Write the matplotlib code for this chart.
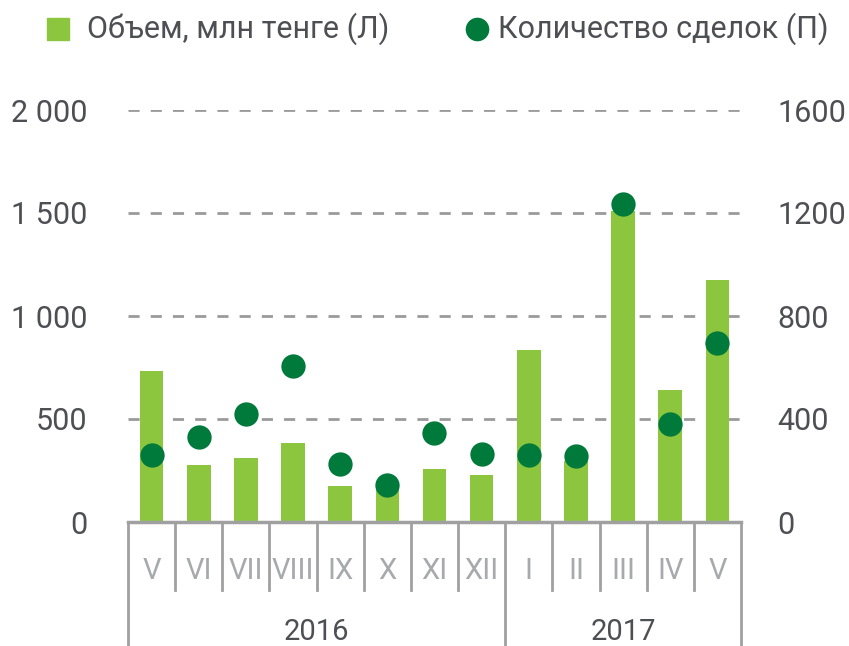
import matplotlib
matplotlib.use("Agg")
import matplotlib.pyplot as plt
from matplotlib import patches as mpatches
from matplotlib.lines import Line2D
import matplotlib.transforms as mtransforms

# data
months = ["V", "VI", "VII", "VIII", "IX", "X", "XI", "XII",
          "I", "II", "III", "IV", "V"]
years = ["2016", "2017"]
months_per_year = [8, 5]
volume = [735, 275, 310, 385, 175, 190, 255, 230, 835, 295, 1510, 640, 1175]   # млн тенге, left axis
deals = [260, 330, 420, 605, 225, 145, 345, 265, 260, 255, 1235, 380, 695]      # count, right axis

left_ticks = [0, 500, 1000, 1500, 2000]
left_labels = ["0", "500", "1 000", "1 500", "2 000"]
right_ticks = [0, 400, 800, 1200, 1600]
legend_labels = ["Объем, млн тенге (Л)", "Количество сделок (П)"]

BAR_GREEN = "#8cc63f"
DOT_GREEN = "#007a3a"
TEXT_DARK = "#4d4f53"
TEXT_GRAY = "#a7a9ac"
LINE_GRAY = "#a0a0a0"

FONT = ["Roboto", "DejaVu Sans"]

W, H = 849, 646
fig = plt.figure(figsize=(W / 100, H / 100), dpi=100)
ax = fig.add_axes([128 / W, 1 - 522 / H, (741 - 128) / W, 412 / H])
ax2 = ax.twinx()

x = list(range(len(months)))
ax.bar(x, volume, width=0.5, color=BAR_GREEN, zorder=2)
ax2.plot(x, deals, "o", color=DOT_GREEN, markersize=17.5, markeredgewidth=0, zorder=3)

ax.set_xlim(-0.5, len(months) - 0.5)
ax.set_ylim(0, 2000)
ax2.set_ylim(0, 1600)

# dashed grid
for v in left_ticks[1:]:
    ax.axhline(v, color="#9a9a9a", lw=2, ls=(0, (4, 4)), zorder=1)

for a in (ax, ax2):
    for s in a.spines.values():
        s.set_visible(False)
ax.spines["bottom"].set_visible(True)
ax.spines["bottom"].set_color(LINE_GRAY)
ax.spines["bottom"].set_linewidth(2.5)

ax.set_yticks(left_ticks)
ax.set_yticklabels(left_labels, fontfamily=FONT, fontsize=22, color=TEXT_DARK)
ax.tick_params(axis="y", length=0, pad=29)
ax2.set_yticks(right_ticks)
ax2.set_yticklabels([str(t) for t in right_ticks], fontfamily=FONT, fontsize=22, color=TEXT_DARK)
ax2.tick_params(axis="y", length=0, pad=26)

ax.set_xticks(x)
ax.set_xticklabels(months, fontfamily=FONT, fontsize=21, color=TEXT_GRAY)
ax.tick_params(axis="x", length=0, pad=25)

# category separators below the axis
trans = mtransforms.blended_transform_factory(ax.transData, ax.transAxes)
year_edges = [-0.5]
for n in months_per_year:
    year_edges.append(year_edges[-1] + n)
for i in range(len(months) + 1):
    b = i - 0.5
    bottom = -0.30 if b in year_edges else -0.165
    ax.plot([b, b], [0, bottom], color=LINE_GRAY, lw=2, transform=trans, clip_on=False)

for i, yr in enumerate(years):
    cx = (year_edges[i] + year_edges[i + 1]) / 2
    ax.text(cx, -0.268, yr, transform=trans, ha="center", va="center",
            fontfamily=FONT, fontsize=21, color=TEXT_DARK)

# legend, placed by hand
fig.patches.append(mpatches.Rectangle((47 / W, 1 - 40 / H), 22 / W, 22 / H,
                                      transform=fig.transFigure, color=BAR_GREEN))
fig.lines.append(Line2D([477 / W], [1 - 29 / H], marker="o", color=DOT_GREEN,
                        markersize=17, markeredgewidth=0, transform=fig.transFigure))
fig.text(87 / W, 1 - 29 / H, legend_labels[0], ha="left", va="center",
         fontfamily=FONT, fontsize=22, color=TEXT_DARK)
fig.text(498 / W, 1 - 29 / H, legend_labels[1], ha="left", va="center",
         fontfamily=FONT, fontsize=22, color=TEXT_DARK)

fig.savefig("out.png", dpi=100)
